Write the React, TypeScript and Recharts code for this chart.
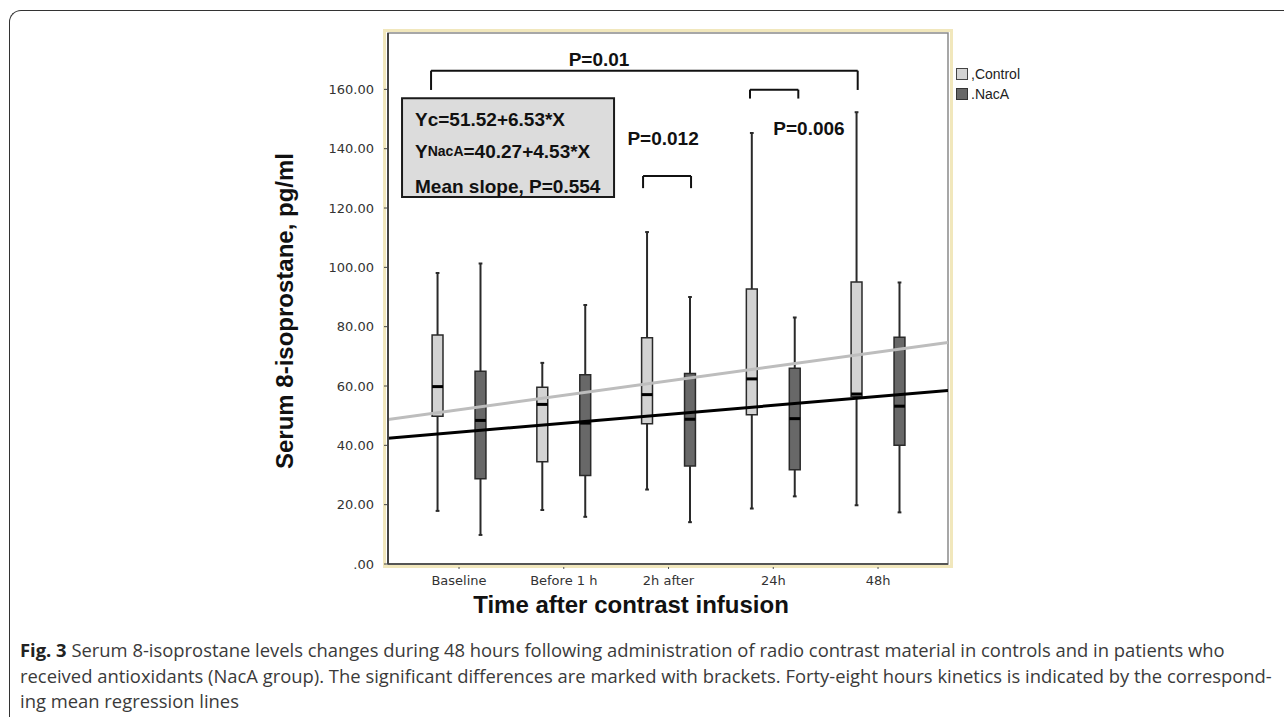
import React from 'react';
import {
  ComposedChart,
  Line,
  XAxis,
  YAxis,
  ReferenceArea,
  ReferenceLine,
  ReferenceDot,
} from 'recharts';

// ---------- data ----------
const categories = ['Baseline', 'Before 1 h', '2h after', '24h', '48h'];
const yTicks = [0, 20, 40, 60, 80, 100, 120, 140, 160];

const controlMin = [17.9, 18.2, 25.1, 18.7, 19.8];
const controlQ1 = [49.8, 34.5, 47.3, 50.3, 56.5];
const controlMedian = [59.8, 53.8, 57.1, 62.4, 57.3];
const controlQ3 = [77.2, 59.6, 76.3, 92.7, 95.1];
const controlMax = [98.1, 67.8, 111.9, 145.3, 152.3];

const nacaMin = [9.8, 15.9, 14.1, 22.8, 17.4];
const nacaQ1 = [28.7, 29.8, 33.0, 31.8, 40.0];
const nacaMedian = [48.4, 47.5, 48.8, 49.0, 53.2];
const nacaQ3 = [65.0, 63.8, 64.2, 66.0, 76.4];
const nacaMax = [101.3, 87.3, 90.0, 83.1, 94.9];

// regression lines read at the two ends of the x range
const regX = [-0.678, 4.668];
const regControl = [48.7, 74.7];
const regNacA = [42.4, 58.5];

const chartData = regX.map((x, i) => ({ x, control: regControl[i], naca: regNacA[i] }));

// ---------- layout constants ----------
const W = 1284;
const H = 717;
const X_DOMAIN: [number, number] = [-0.678, 4.668];
const Y_DOMAIN: [number, number] = [0, 179];
const GROUP_OFFSET = 0.205;
const BOX_HALF = 0.052;
const CAP_HALF = 0.018;

const boldFont = "'Liberation Sans', Arial, Helvetica, sans-serif";

const labelAt = (render: (x: number, y: number) => React.ReactNode) => (props: any) => {
  const vb = props.viewBox || {};
  const cx = (vb.x || 0) + (vb.width || 0) / 2;
  const cy = (vb.y || 0) + (vb.height || 0) / 2;
  return <g>{render(cx, cy)}</g>;
};

const pTextStyle: React.CSSProperties = {
  fontFamily: boldFont,
  fontWeight: 700,
  fontSize: 19,
  fill: '#111',
};

function boxes(
  mins: number[],
  q1s: number[],
  meds: number[],
  q3s: number[],
  maxs: number[],
  offset: number,
  fill: string,
  key: string,
) {
  return categories.flatMap((_, i) => {
    const x = i + offset;
    return [
      <ReferenceLine
        key={`${key}-lw-${i}`}
        segment={[{ x, y: mins[i] }, { x, y: q1s[i] }]}
        stroke="#2a2a2a"
        strokeWidth={2}
      />,
      <ReferenceLine
        key={`${key}-uw-${i}`}
        segment={[{ x, y: q3s[i] }, { x, y: maxs[i] }]}
        stroke="#2a2a2a"
        strokeWidth={2}
      />,
      <ReferenceLine
        key={`${key}-lc-${i}`}
        segment={[{ x: x - CAP_HALF, y: mins[i] }, { x: x + CAP_HALF, y: mins[i] }]}
        stroke="#2a2a2a"
        strokeWidth={2}
      />,
      <ReferenceLine
        key={`${key}-uc-${i}`}
        segment={[{ x: x - CAP_HALF, y: maxs[i] }, { x: x + CAP_HALF, y: maxs[i] }]}
        stroke="#2a2a2a"
        strokeWidth={2}
      />,
      <ReferenceArea
        key={`${key}-box-${i}`}
        x1={x - BOX_HALF}
        x2={x + BOX_HALF}
        y1={q1s[i]}
        y2={q3s[i]}
        fill={fill}
        fillOpacity={1}
        stroke="#2a2a2a"
        strokeWidth={1.5}
      />,
      <ReferenceLine
        key={`${key}-med-${i}`}
        segment={[{ x: x - BOX_HALF, y: meds[i] }, { x: x + BOX_HALF, y: meds[i] }]}
        stroke="#000"
        strokeWidth={3}
      />,
    ];
  });
}

function bracket(x1: number, x2: number, yTop: number, yBottom: number, key: string) {
  return [
    <ReferenceLine key={`${key}-h`} segment={[{ x: x1, y: yTop }, { x: x2, y: yTop }]} stroke="#111" strokeWidth={2} />,
    <ReferenceLine key={`${key}-l`} segment={[{ x: x1, y: yTop }, { x: x1, y: yBottom }]} stroke="#111" strokeWidth={2} />,
    <ReferenceLine key={`${key}-r`} segment={[{ x: x2, y: yTop }, { x: x2, y: yBottom }]} stroke="#111" strokeWidth={2} />,
  ];
}

function textDot(x: number, y: number, render: (px: number, py: number) => React.ReactNode, key: string) {
  return <ReferenceDot key={key} x={x} y={y} r={1} fill="none" stroke="none" label={labelAt(render)} />;
}

export default function App() {
  return (
    <div style={{ position: 'absolute', left: 0, top: 0, width: W, height: H, background: '#fff', overflow: 'hidden' }}>
      {/* outer figure border */}
      <div
        style={{
          position: 'absolute',
          left: 9,
          top: 10,
          width: W - 9,
          height: H - 10,
          borderLeft: '1.5px solid #333',
          borderTop: '1.5px solid #333',
          borderTopLeftRadius: 12,
          boxSizing: 'border-box',
        }}
      />
      {/* plot frame glow */}
      <div
        style={{
          position: 'absolute',
          left: 383,
          top: 29,
          width: 570,
          height: 539,
          border: '3px solid #f1e7bc',
          boxSizing: 'border-box',
        }}
      />
      <div style={{ position: 'absolute', left: 0, top: 0 }}>
        <ComposedChart
          width={W}
          height={H}
          data={chartData}
          margin={{ top: 33, right: 336, bottom: 123, left: 328 }}
        >
          <XAxis
            dataKey="x"
            type="number"
            domain={X_DOMAIN}
            allowDataOverflow
            ticks={[0, 1, 2, 3, 4]}
            interval={0}
            tickFormatter={(v: number) => categories[Math.round(v)] ?? ''}
            height={30}
            stroke="#555"
            tickSize={5}
            tickMargin={7}
            tick={{ fontFamily: "'DejaVu Sans', Verdana, sans-serif", fontSize: 13, fill: '#333' }}
            axisLine={{ stroke: '#555', strokeWidth: 2 }}
            tickLine={{ stroke: '#555', strokeDasharray: '2 2' }}
          />
          <YAxis
            type="number"
            domain={Y_DOMAIN}
            allowDataOverflow
            ticks={yTicks}
            interval={0}
            width={60}
            tickFormatter={(v: number) => (v === 0 ? '.00' : v.toFixed(2))}
            tickSize={4}
            tickMargin={10}
            tick={{ fontFamily: "'DejaVu Sans', Verdana, sans-serif", fontSize: 13, fill: '#333' }}
            axisLine={{ stroke: '#444', strokeWidth: 2 }}
            tickLine={{ stroke: '#444' }}
          />

          {/* plot frame */}
          <ReferenceArea
            x1={X_DOMAIN[0]}
            x2={X_DOMAIN[1]}
            y1={Y_DOMAIN[0]}
            y2={Y_DOMAIN[1]}
            fill="none"
            fillOpacity={0}
            stroke="#8a8a8a"
            strokeWidth={1.5}
          />

          {boxes(controlMin, controlQ1, controlMedian, controlQ3, controlMax, -GROUP_OFFSET, '#d3d3d3', 'c')}
          {boxes(nacaMin, nacaQ1, nacaMedian, nacaQ3, nacaMax, GROUP_OFFSET, '#686868', 'n')}

          <Line
            type="linear"
            dataKey="control"
            stroke="#bdbdbd"
            strokeWidth={3}
            dot={false}
            activeDot={false}
            isAnimationActive={false}
          />
          <Line
            type="linear"
            dataKey="naca"
            stroke="#000"
            strokeWidth={3}
            dot={false}
            activeDot={false}
            isAnimationActive={false}
          />

          {/* significance brackets */}
          {bracket(-0.267, 3.806, 166.3, 159.8, 'b1')}
          {bracket(1.757, 2.215, 130.8, 126.7, 'b2')}
          {bracket(2.778, 3.239, 159.9, 156.9, 'b3')}

          {/* regression annotation box */}
          <ReferenceArea
            x1={-0.544}
            x2={1.48}
            y1={123.7}
            y2={157.0}
            fill="#dcdcdc"
            fillOpacity={1}
            stroke="#1a1a1a"
            strokeWidth={2}
          />

          {textDot(1.337, 170.1, (x, y) => (
            <text x={x} y={y} textAnchor="middle" dominantBaseline="central" style={pTextStyle}>P=0.01</text>
          ), 't1')}
          {textDot(1.948, 143.5, (x, y) => (
            <text x={x} y={y} textAnchor="middle" dominantBaseline="central" style={pTextStyle}>P=0.012</text>
          ), 't2')}
          {textDot(3.341, 146.9, (x, y) => (
            <text x={x} y={y} textAnchor="middle" dominantBaseline="central" style={pTextStyle}>P=0.006</text>
          ), 't3')}
          {textDot(-0.42, 149.8, (x, y) => (
            <text x={x} y={y} textAnchor="start" dominantBaseline="central" style={pTextStyle}>Yc=51.52+6.53*X</text>
          ), 't4')}
          {textDot(-0.42, 139.2, (x, y) => (
            <text x={x} y={y} textAnchor="start" dominantBaseline="central" style={pTextStyle}>
              Y<tspan style={{ fontSize: 14 }}>NacA</tspan>=40.27+4.53*X
            </text>
          ), 't5')}
          {textDot(-0.42, 127.4, (x, y) => (
            <text x={x} y={y} textAnchor="start" dominantBaseline="central" style={pTextStyle}>Mean slope, P=0.554</text>
          ), 't6')}
        </ComposedChart>
      </div>

      {/* legend */}
      <div style={{ position: 'absolute', left: 956, top: 64, fontFamily: boldFont, fontSize: 14, color: '#222' }}>
        <div style={{ display: 'flex', alignItems: 'center', height: 20 }}>
          <span style={{ width: 10, height: 10, background: '#d3d3d3', border: '1px solid #444', display: 'inline-block' }} />
          <span style={{ marginLeft: 3 }}>,Control</span>
        </div>
        <div style={{ display: 'flex', alignItems: 'center', height: 20 }}>
          <span style={{ width: 10, height: 10, background: '#686868', border: '1px solid #333', display: 'inline-block' }} />
          <span style={{ marginLeft: 3 }}>.NacA</span>
        </div>
      </div>

      {/* axis titles */}
      <div
        style={{
          position: 'absolute',
          left: 285 - 200,
          top: 311 - 14,
          width: 400,
          height: 28,
          lineHeight: '28px',
          textAlign: 'center',
          transform: 'rotate(-90deg)',
          fontFamily: boldFont,
          fontWeight: 700,
          fontSize: 24,
          color: '#111',
          whiteSpace: 'nowrap',
        }}
      >
        Serum 8-isoprostane, pg/ml
      </div>
      <div
        style={{
          position: 'absolute',
          left: 631 - 200,
          top: 605 - 14,
          width: 400,
          height: 28,
          lineHeight: '28px',
          textAlign: 'center',
          fontFamily: boldFont,
          fontWeight: 700,
          fontSize: 24,
          color: '#111',
          whiteSpace: 'nowrap',
        }}
      >
        Time after contrast infusion
      </div>

      {/* caption */}
      <div
        style={{
          position: 'absolute',
          left: 20,
          top: 637,
          fontFamily: "'Open Sans', 'Noto Sans', sans-serif",
          fontSize: 18.4,
          lineHeight: '25.5px',
          color: '#3a3a3a',
          whiteSpace: 'nowrap',
        }}
      >
        <div>
          <b style={{ color: '#222' }}>Fig. 3</b> Serum 8-isoprostane levels changes during 48 hours following administration of radio contrast material in controls and in patients who
        </div>
        <div>
          received antioxidants (NacA group). The significant differences are marked with brackets. Forty-eight hours kinetics is indicated by the correspond-
        </div>
        <div>ing mean regression lines</div>
      </div>
    </div>
  );
}
